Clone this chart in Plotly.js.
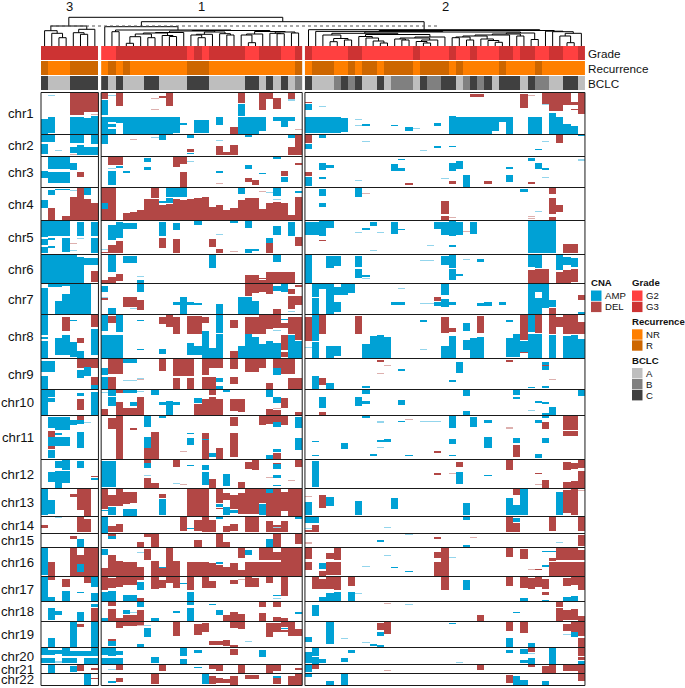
<!DOCTYPE html>
<html><head><meta charset="utf-8">
<script src="https://cdn.plot.ly/plotly-3.0.1.min.js"></script>
<style>html,body{margin:0;padding:0;background:#fff}</style></head>
<body><div id="g" style="width:685px;height:688px"></div>
<script>
// sample groups, in drawing order
const clusterNames = ["3","1","2"];
const clusterSizes = [8,28,39];
const chrNames = ["chr1","chr2","chr3","chr4","chr5","chr6","chr7","chr8","chr9","chr10","chr11","chr12","chr13","chr14","chr15","chr16","chr17","chr18","chr19","chr20","chr21","chr22"];
const chrBins = [41,21,30,32,33,28,30,43,30,25,43,28,27,16,13,28,24,19,25,16,8,11];

// sample annotations
const grade = ["33333333","22 3333333333 2 3 2 33333 22 333 22 3","3 22222 33 2222222 3 2222 3 22 3 222 33 2 33 22 33 22 3"];
const recurrence = ["R NNN RRRR","N R N R NNNNNNNN RRR NNNNNNNNNNNN R","N RRR NN R N RR N RRRR N RRRR N R NNNNN R NNNN R NNNNNN"];
const bclc = ["C AAA CCCC","C A C AAA CC AAAA CCC AAAAA CC A C A C A B","C AAA B C B C AA C A BBB A C BB CC A B C B C A CCC A C BB AA CC A"];

// CNA segments per chromosome and cluster: type sample(s):bins. A=AMP D=DEL, a/d=faint call
const chr1 = ["a1:2-3 D4-7:0-19 D4-5:19-22 d7:21-22 A0:26-41 A1:24-40 A4-5:24-41 A6:25-41 A7:23-41",
"D0:0-6 A0:7-22 A0:24-41 a1:2-3 A1:24-29 A1:31-34 A1:36-41 D2:0-13 A2:24-30 A3-9:24-41 A10:24-40 A11:30-32 A13-14:27-40 A16:24-32 d7:5-6 d7:16-17 D8:3-5 D9:0-13 D18:34-41 D19:0-10 A19:11-23 A19-21:24-41 A22:24-38 D22:0-17 D23:0-6 D24:5-16 A24:24-28 A25:24-34 A26:24-28 D26:0-6 a26:6-8 d27:36-37",
"D0:9-10 A0:11-17 a2:13-14 A0-4:24-40 A5:25-39 a7:26-27 a7:32-33 A8:31-33 A12:32-33 A14:34-38 a15:35-36 A18:30-33 A20:23-41 A21-25:24-41 A26:24-38 A27:24-29 A28:24-41 D23-24:1-4 D30:1-15 d31:2-3 A31-32:24-41 D33:0-11 a33:11-12 D34-35:0-18 D36-37:9-12 D36:0-12 D37:16-17 D38:0-21 A34:20-41 A35:24-41 A36:31-41 A37:33-41"];
const chr2 = ["A0-1:0-7 A0:9-19 a2:15-16 A4-5:0-8 A7:0-9 A4:12-18 A5:10-20 A6-7:12-20 d4:19-20",
"A0:0-9 d4:4-5 a7:2-3 A8:0-5 A12:0-3 D12:14-17 A12:18-19 a16:5-6 D16:11-20 D17:17-20 D18:10-20 A20:0-2 A26:0-3 D26:12-20 D27:0-20",
"D0:0-8 A0:9-14 A2:0-3 a8:6-7 a16:15-16 A18:11-13 A20:11-12 A32:14-15 a33:6-7 D35:0-8 A38:0-1"];
const chr3 = ["A1-3:0-12 A4:6-13 A0:14-21 A1-3:15-26 D5:15-20",
"D1:0-8 D2:0-8 A2:9-11 a1:11-12 A1:14-28 A3:14-16 A6:1-5 A6:10-13 D10:0-10 D11:0-7 D11:15-30 a12:4-5 A16:14-16 d16:26-27 A20:8-12 D20:21-25 D21:23-28 A22:16-17 D25:14-19 A25:20-25 A24:0-2 D27:6-8",
"D0:15-19 A0:20-29 A2:6-13 A3:8-11 A2:20-22 a7:23-24 A13:2-3 A12:7-14 A13:11-14 D14:26-28 a19:21-22 A20:6-14 A21:4-12 D20:24-27 A22:18-30 D25:24-27 A28:10-12 A28:18-25 A31:1-4 D31:25-27 A32:6-12 A33:11-13 a33:20-21 a38:2-4"];
const chr4 = ["A1:2-7 A2:1-2 A3:1-2 a4:2-3 D5:0-32 D4:9-32 A6:0-7 D6:11-32 D7:15-32 A0:12-20 D1:20-32 D3:28-32",
"D0-1:0-32 A0:15-21 D3:25-32 D4:24-32 D5:22-32 D6:11-32 D7:0-10 D7:11-32 A8:13-15 D8:17-32 A9:0-9 A9:10-15 D9:16-32 A10:0-9 D10:11-32 A11:0-9 D11:12-32 D12:11-32 D13:10-32 D14:9-32 D15:19-32 D16:17-32 D17:22-32 D18:20-32 A19:0-6 D19:12-32 D20-21:10-32 d22:3-4 D22:21-32 a23:4-5 D23:15-32 A24:0-8 a24:11-12 D24:14-32 D25:15-32 D26:27-32 A27:3-5 D27:9-32",
"A2:1-8 A2:15-19 A7:0-9 d8:5-6 D19:13-26 D19:28-32 d20:29-30 A30:1-4 d31:28-29 d31:30-31 a32:23-24 D34:0-6 D34:10-26 D35:17-24 D34:29-32"];
const chr5 = ["A0:0-16 A0:18-24 A0:26-32 A1-3:0-15 A3:17-31 A1:17-19 A1:25-27 A5:1-15 a5:17-18 d4:22-23 a4:29-30 A7:1-15 A7:17-32",
"a0:28-29 D0:31-32 A1:4-19 A2:1-17 D1:24-32 D2:20-32 A3-4:2-8 A8:1-15 D8:17-27 A10:2-9 D10:18-32 A13:0-4 a16:13-14 D15:18-26 D16:28-32 d18:30-31 A18:0-2 A20:0-7 A20:28-32 A21:28-30 A23:17-22 D23:22-32 A24:5-14 A26:1-15 D27:16-25",
"A0-1:1-14 A2:0-15 A3:0-7 D2:19-20 a7:11-12 A8:7-9 A9:1-5 a9:29-30 a10:11-12 A12:1-13 A13:8-9 a17:24-25 A18:1-8 A19:1-14 A20:0-15 A21:1-14 d22:10-11 A23:1-13 A20:24-26 A31-34:0-32 D36-37:23-32"];
const chr6 = ["A0-4:0-28 A5:2-28 A6-7:3-10 D7:16-27",
"A1:0-17 D0:25-28 D1:22-28 D2:19-26 A3-4:1-8 a5:21-22 A5:25-28 A15:0-13 A24:0-7 D20-21:20-28 D22:23-24 D22:25-28 D23-26:17-28",
"A0:0-28 A3:1-13 A4:1-11 A7:1-12 A7:14-23 A8:20-22 a8:23-24 a16-17:5-6 A19:1-10 A20:0-13 A20:14-25 A21:19-21 a22:4-5 A24:4-7 A31:0-12 D31:15-28 A32:0-13 D32-33:14-28 A35:0-15 A36:2-10 A37:3-12 D35:17-28 D36:15-28 D37:14-27"];
const chr7 = ["A0:4-30 A1:0-3 A2:0-3 A2:17-30 A3:0-2 A3:10-30 A4-6:0-30",
"A0:2-8 a0:13-14 D0:14-16 A1:24-30 A5:0-8 D3-4:13-23 D5:16-26 a4:24-25 A10:18-21 A11:13-30 A12:18-21 A13:19-21 A16:20-30 A19-20:13-30 A21:17-30 D20:0-12 D21:0-9 D22:0-8 D23:0-10 A24:2-7 A25:0-8 D26:5-10 D26:12-25 D27:1-3 D27:12-21 a26:27-28 D24:25-30",
"A1:0-13 A1:14-30 A2:0-5 A3:0-30 A4:3-11 A4:18-28 A5:0-11 A6:0-9 a13:4-5 A12-13:18-21 a16-17:19-20 D18:13-17 A18:18-22 A19:0-11 A19:15-23 A20:18-21 A24:19-22 A25:18-22 A27:18-21 A31:0-30 A32:0-8 A32:14-30 A33:0-24 A34:16-23 D34:24-30 D38:11-16 A38:28-30"];
const chr8 = ["A0:0-20 A0:22-24 A0:26-43 D3:2-16 A4:5-6 A3:20-40 A2:23-40 A4:27-42 A5:36-43 D5:23-28 D7:0-12 A7:14-40",
"A0:0-16 D1:1-8 A2:0-17 A0-2:20-43 A5:5-6 A5:34-35 D8:2-9 D9:0-12 D10:2-19 A8:34-39 D12-13:1-19 D14:2-8 A12:28-40 A13:31-40 A14:16-43 A15:33-43 A16:0-18 A16:19-43 D18:5-13 D18:36-43 A19:31-43 A20:19-43 A21:22-43 A22:29-43 A23:26-43 A24:28-43 D20-21:2-19 D22:0-19 D23:0-14 D24:0-13 a24:15-16 A25:4-5 D25:8-13 D25:20-35 D25:37-42 D26:2-19 A26:20-43 D27:2-25 A27:26-43",
"D0:2-26 A1:0-26 a0:32-33 A1:27-43 D2:0-19 A3:31-43 A4:31-41 D7:1-19 A8:29-43 A9:21-43 A10:20-43 A11:22-43 A16:5-7 a16:34-35 D19:2-18 D20:13-17 A19:31-43 A20:21-43 A22:8-16 A22:25-35 A23:23-43 A24:22-43 D24:1-18 A28:5-7 A28:23-42 A29:19-42 D30:0-25 A30:26-37 D30:37-38 A31:19-43 A31:0-17 D32:0-18 A32:19-43 A34:20-43 D34:0-19 D35:2-12 D36-37:0-19 D38:7-19 A36:21-43 A37:20-43 A38:24-43"];
const chr9 = ["A0-1:2-13 A0:17-30 D5:0-9 D6:0-8 D7:0-9 A5:11-19 A6:8-17 D7:18-26 A7:26-30",
"A0:9-16 A0:18-30 D1-2:0-15 D1:18-30 A3-4:0-4 a3:21-22 a4:21-22 d5:20-21 a5:19-20 D8:0-12 D10-12:0-17 D10:19-30 D12:19-30 D14:0-16 D15-16:0-9 D14-15:18-30 A16:19-23 A16:27-30 D18:0-10 D18:18-25 D20-21:0-13 D22:0-9 A24:9-16 D24:0-9 D25-26:0-15 D23:24-30 D26-27:19-30",
"D10:1-3 d11:6-7 d10:14-15 A13:10-12 A21:3-14 A20:21-23 D28:1-3 A33:3-11 D33:6-7 d34:20-21 A1:17-30 D2:19-26 A3:24-30 A8:27-29 A31:28-29 A33:27-29"];
const chr10 = ["A0:0-25 A1:0-7 A1:8-12 A5:3-6 D5:9-20 A7:2-25",
"D0:19-25 a0:2-3 A1:0-6 A1:7-16 D2:0-3 D2:12-25 A3-4:0-3 a5:1-2 D3-4:18-25 A4:12-16 D5:7-25 A7:0-5 A8:12-15 A9:11-25 A10:12-15 A13:8-13 D13:14-25 D14:9-25 D15:0-5 D15:7-25 D16:9-25 D18:9-21 D19:9-22 A17:0-2 A23:0-7 D23:19-25 A24:7-13 D25:8-18 d24:18-19 D24:20-25 D27:22-25",
"A8:0-4 A7:7-16 A8:11-14 A2:7-18 D2:22-25 A13:10-15 A22:0-6 A22:21-25 A29:0-5 A29:7-9 A32:11-13 A33:12-14 a31:20-21 A34:17-25 A33:23-25 A38:0-6"];
const chr11 = ["A1:1-12 A2-3:1-14 A4:4-9 A5:4-8 a6:6-7 D5:0-4 D1:15-33 A1:34-42 A2:17-19 A2-3:21-30 A1:21-30 A5:16-32",
"D1:2-13 D2:0-43 D4:12-14 A6:0-11 A6:21-32 D6:32-43 D7:16-43 A8:0-2 d11:35-36 A12:17-18 A12:22-29 D14:17-43 A14:23-24 A15:37-41 D16:32-43 D18:1-10 D18:17-41 D22:0-9 D23:0-8 D24:0-6 A24:6-11 D25:0-9 A27:1-12 A27:22-34 A23:39-43 A24:33-36 D24:37-43",
"A8:0-2 a10:5-7 A13:5-6 d14:3-4 a16-18:5-6 A20:0-12 A23:1-11 A25:4-7 d28:11-13 A32:4-7 D33:6-13 A33:0-2 D36-37:0-14 D36-37:15-20 A1:25-26 A5:27-33 A10:24-26 A11:23-26 a10:31-32 A25:21-32 A20:23-28 D18:35-37 A1:39-40 A9:38-40 A14:39-40 A20:39-40 A29:22-27 D29:29-41 A33:22-27 A32:38-42"];
const chr12 = ["A2:1-8 A3:0-10 A5:1-8 A1:12-22 A2:11-28 A3:11-23 D7:16-17 A7:18-20",
"A0-1:1-27 A6:3-8 D6:0-3 D6:18-28 a6:15-16 D7:23-28 D10:0-7 a10:23-24 d11:24-25 A12:5-6 A14:5-10 A14:12-25 D15:19-28 A17:14-26 D19:22-28 D20:2-9 D21:0-10 D24:3-4 A24:4-9 d23:17-18 A24:15-18 A24:25-26 d26:20-21 D27:0-7",
"A1:1-27 D18:13-15 d20:13-14 D21:2-7 A21:12-24 A25:15-16 D28:0-10 D32:13-14 d32:24-25 D33:20-28 D36:2-10 D37:3-9 D38:0-8 D36:22-28 D37:21-28 D38:11-28"];
const chr13 = ["A0:0-26 A1:11-25 D4:5-8 D5:0-21 D6:0-27",
"D0:0-20 D1:6-17 D2:0-17 D3:3-15 D4:3-14 A0:21-22 A1:18-26 A3-4:20-27 D8:5-9 A8:10-26 D12-14:0-27 D16:0-14 A16:15-18 D16:19-20 A17:18-26 D17:4-11 D18:6-20 A18:21-24 D19:4-25 D20-21:0-25 D22:0-14 A22:15-26 A23:0-4 D23:4-27 D24:0-27 D25:3-22 D26-27:0-27",
"d0:7-8 A0:13-26 D2:6-19 A3:8-17 A7:12-26 A12:9-20 A22:14-26 A28:9-26 A29:16-26 D29:0-6 A30:0-26 A35:3-26 D36:1-24 D37:0-26 d38:1-2"];
const chr14 = ["a2:0-1 D0:8-11 D5:0-15 D6:2-15",
"A0:0-16 D1:9-15 D2:7-15 D11:0-14 A12:11-12 D13:3-14 D14:0-15 D15:3-15 A16:0-2 D17:9-15 D18:7-14 D20-21:0-15 D23:4-15 D25:4-15 D24:8-15 a24:10-11 A27:0-2",
"A0-1:0-6 D1:8-15 D0:13-15 a0:11-12 a11:10-11 A22:0-3 D28:0-15 A29:1-5 D29:6-15 D34:0-14 D38:0-14"];
const chr15 = ["D4:2-5 A5:5-13",
"D1:0-2 A1:2-5 D6:0-3 D7:0-13 D5:8-13 D13:6-13 D16:0-13 D17:8-13 A23:5-13 D24:0-13 D27:0-10",
"d0:8-10 a14:0-1 A10:6-8 D18:3-5 d23:3-4 A22:11-13 a35:8-9 D38:1-12"];
const chr16 = ["A0:0-27 D1:14-28 D4:0-28 D5:7-28 A5:16-24 D6-7:0-28",
"A0:1-7 D0:20-28 D1:7-28 D2:13-28 D3-4:14-28 D5:19-28 a5:4-5 D6:1-12 D7:13-28 D8:20-28 A8:19-20 D9:0-28 D10:13-28 D12-14:14-28 D15:15-28 A16:14-16 D16:17-28 D17:19-28 D18:15-28 D19:0-10 D19:22-28 D20-24:14-28 A20:2-7 D22-23:0-12 D24:4-12 D25-27:0-28",
"D0:0-11 D0:14-22 A2:15-21 D2:23-28 D3:5-11 D3:14-27 D4:0-12 D4:14-27 a8:18-19 a11:7-8 A12:19-20 A14:23-24 D18:4-10 D18:14-28 D19:0-28 a20:9-10 D28:0-9 D30:1-11 A33:3-4 A34:3-4 A33:17-19 d31:21-22 D32:21-22 D34:10-13 D34:14-28 D35-37:0-12 D38:2-12 D35-38:14-28"];
const chr17 = ["A0:0-24 A1:20-24 D1:0-3 D3:2-10 A3:14-24 A5:15-16 D6:0-6 A7:0-10 A7:16-24",
"D0:0-13 D1:1-11 D2:0-10 D3-4:0-8 D5:0-3 A5:5-13 A0:15-24 A1:14-24 A3-4:18-24 D5:21-24 D7:0-12 D8:3-11 D9:0-6 D10:0-11 A11:6-7 D12:0-13 A12:15-24 D14:0-11 D15:4-11 D18:3-7 d19:2-3 D20:0-10 D21:1-10 D23:0-6 D25:0-19 A24:18-19 a24:21-22",
"D1:0-12 D2:2-12 D3:0-12 D4:0-13 A2:20-24 A3:16-24 A4:15-24 D6:0-9 A6:15-24 a7:16-17 D19:0-13 A22:3-13 D28:0-9 D30:0-11 A30:21-24 D31:1-12 D32:0-10 D33:2-12 D33:15-18 A33:23-24 D36:1-9 D37:0-8 D38:0-13 A36:20-24 A37:19-24"];
const chr18 = ["A1:6-18 A2:9-13 A5:10-19 A7:2-5 D7:6-19",
"D1:0-4 D1:7-19 A0:16-19 D2:16-19 A3:8-12 a4:10-11 D3-4:13-19 D5:8-19 A5:0-5 A7:16-19 A10:9-11 A12:6-19 A12:0-3 A15:2-3 A16:8-13 D17:13-19 D18:10-19 D19:12-19 D22:0-5 D22:11-19 D24:0-5 D24:15-19 D25:16-19 A27:10-12",
"A1:3-14 d11:1-2 a14:2-3 D24:13-19 A29:10-11 D35:0-5 D35:6-19 D36:8-18 D37:7-18 D38:14-19"];
const chr19 = ["A1:16-25 A4:0-25 D5:2-5 A7:0-25",
"D2:0-6 D3-4:0-4 D5:0-3 d5:3-4 a6:3-4 A6:6-15 D1:17-19 A1:19-24 D10:0-14 D13:2-13 D14:1-10 A5:22-25 D15:19-23 D16:19-23 D17:18-24 D18:23-25 D18:0-6 D19:0-7 a20:19-20 D23:1-15 D24:1-10 D25:0-5 A25:6-7 D25:8-10 D26:0-14 D27:7-14",
"A0:15-20 A3:0-22 a5:16-17 a8:20-21 A9:22-24 A10:23-25 D10:1-8 D11:0-12 A10:10-14 A20:1-2 D28:0-9 A28:16-25 D30:0-11 A31:21-25 D36:2-9 D37:0-10 D38:0-14 A37:10-15 a36:12-13 D38:16-25"];
const chr20 = ["A0:0-7 A1:2-7 A2:2-6 A3:0-8 A4-6:3-8 A7:0-8 A0-1:10-15 a2:13-15 A3-4:10-15 A6-7:10-16",
"A0:0-7 A1:0-8 A2:3-7 A0-2:10-16 A7:9-15 A11:0-8 A11:11-16 A13:2-5 D18:1-7 A22:2-9",
"A1:0-8 A0:4-15 A1:9-16 A2:11-15 A6:2-5 A5:10-14 a21:14-15 A28:2-5 A30:1-6 A30:12-15 A31:10-16 D31:0-4 a31:5-6 A34:0-16 D38:0-8 D38:9-12 A38:13-16"];
const chr21 = ["A1:0-8 A4:1-7 D5:0-6 D7:3-5",
"D2:0-5 a1:4-5 D8:0-6 A13:2-3 D15:0-4 D16:0-6 D19:0-8 D23:0-8 D24:0-6 D27:3-5",
"A0:0-7 D1:0-4 d11:5-6 D24:0-5 D33:1-8 D34:0-8 D36-37:0-6 D38:0-8 D31:0-2"];
const chr22 = ["A6:0-11 D7:4-5",
"A1:7-9 D2:4-8 D7:0-10 A14:0-10 D15:2-10 D16:4-9 D17:5-9 D18:2-11 D20-21:1-5 A24:2-4 D24:4-10 D26:2-11 D27:0-11",
"A0:0-3 A3:7-11 A5:0-11 D28:1-9 A29:2-11 A30:6-11 A33:7-11 D38:0-7"];
const chrSegments = [chr1,chr2,chr3,chr4,chr5,chr6,chr7,chr8,chr9,chr10,chr11,chr12,chr13,chr14,chr15,chr16,chr17,chr18,chr19,chr20,chr21,chr22];

// clustering, hclust style: negative = sample (1-based), positive = earlier merge (1-based), then height,
// and optionally the position of the node along the samples
const mergeC3 = [[-3,-4,8.3],[-2,1,12.7],[-1,2,15.3],[-6,-7,11.7],[-5,4,13.3],[-8,5,16.7],[3,6,20]];
const mergeC1 = [[-2,-3,14.3],[-4,-5,2.7],[2,-6,9.3],[-7,-8,8.3],[3,4,12],[-10,-11,9.5],[-9,6,10.5],[5,7,13],[8,-12,13.5],[-14,-15,8.3],[-13,10,11],[11,-16,11.7],[-18,-19,11],[-17,13,12.3],[12,14,14],[9,15,15],[-21,-22,3.3],[-20,17,11],[18,-23,12],[-25,-26,12.3],[-24,20,12.7],[-27,-28,13],[21,22,14],[19,23,14.5],[16,24,15.5],[1,25,16,10.7],[-1,26,19.3]];
const mergeC2 = [[-4,-5,4.3],[-6,-7,6],[1,2,7.5],[-3,3,11],[-11,-12,3],[-10,5,5],[-9,6,8],[-8,7,9.5],[-14,-15,6],[-13,9,7],[-17,-18,3],[-16,11,4.5],[-19,12,6],[10,13,8],[14,-20,9],[8,15,11.5],[4,16,12.7],[-21,-22,8.3],[-23,-24,6],[18,19,9],[-27,-28,3.7],[-26,21,5.5],[-25,22,7],[20,23,10],[24,-29,11],[-30,-31,10],[25,26,12],[-32,-33,6.5],[27,28,13],[17,29,14],[-2,30,14.6],[-37,-38,3.3],[-36,32,10],[33,-39,12.7],[-35,34,14.3],[-34,35,14.8],[31,36,15.5,32.7],[-1,37,16.3]];
const topHeights = [24.3,28.7];
const cutHeight = 20;

// colours
const cnaColors = {D:"#B24745",d:"#DDB0AE",blank:"#FFFFFF",a:"#93D5EC",A:"#00A1D5"};
const gradeColors = {"2":"#FF4040","3":"#CD3333"};
const recColors = {N:"#FF7F00",R:"#CD6600"};
const bclcColors = {A:"#BEBEBE",B:"#808080",C:"#404040"};

// page geometry: the axes span the whole page, one y unit is one page pixel
const W=685,H=688,L=41,U=7.18,GAP=0.38,Y0=93,LEAF=46;
const X=px=>(px-L)/U;
const starts=[0,clusterSizes[0]+GAP,clusterSizes[0]+clusterSizes[1]+2*GAP];
const totalRows=chrBins.reduce((s,n)=>s+n+1,0);
const code={D:-2,d:-1,a:1,A:2};
const tops=[];{let t=Y0;chrBins.forEach(n=>{tops.push(t);t+=n+1;});}

const traces=[];
clusterSizes.forEach((n,p)=>{
  const z=Array.from({length:totalRows},()=>new Array(n).fill(0));
  chrSegments.forEach((seg,c)=>{
    seg[p].trim().split(/\s+/).forEach(s=>{
      const m=s.match(/^([ADad])(\d+)(?:-(\d+))?:(\d+)-(\d+)$/);
      if(!m)return;
      const c0=+m[2],c1=m[3]===undefined?c0:+m[3];
      for(let b=+m[4];b<+m[5]&&b<chrBins[c];b++)
        for(let k=c0;k<=c1&&k<n;k++) z[tops[c]-Y0+b][k]=code[m[1]];
    });
  });
  traces.push({type:"heatmap",z,x0:starts[p]+0.5,dx:1,y0:Y0+0.5,dy:1,zmin:-2,zmax:2,showscale:false,hoverinfo:"skip",
    colorscale:[[0,cnaColors.D],[.125,cnaColors.D],[.125,cnaColors.d],[.375,cnaColors.d],[.375,cnaColors.blank],[.625,cnaColors.blank],[.625,cnaColors.a],[.875,cnaColors.a],[.875,cnaColors.A],[1,cnaColors.A]]});
});

// annotation strips
const strips=[[grade,gradeColors,46,60],[recurrence,recColors,61,75],[bclc,bclcColors,76,90]];
strips.forEach(([vals,cols,y0,y1])=>{
  const keys=Object.keys(cols);
  vals.forEach((v,p)=>{
    const row=v.replace(/\s/g,"").split("").map(c=>keys.indexOf(c));
    traces.push({type:"heatmap",z:[row],x0:starts[p]+0.5,dx:1,y:[y0,y1],zmin:0,zmax:keys.length-1,showscale:false,hoverinfo:"skip",
      colorscale:keys.length===2?[[0,cols[keys[0]]],[.5,cols[keys[0]]],[.5,cols[keys[1]]],[1,cols[keys[1]]]]
      :[[0,cols.A],[.333,cols.A],[.333,cols.B],[.667,cols.B],[.667,cols.C],[1,cols.C]]});
  });
});

// dendrograms
const dx=[],dy=[];
function link(x1,h1,x2,h2,h){dx.push(x1,x1,x2,x2,null);dy.push(LEAF-h1,LEAF-h,LEAF-h,LEAF-h2,null);}
function tree(merge,start){
  const nodes=[];
  const get=i=>i<0?{x:start-i-0.5,h:0}:nodes[i-1];
  merge.forEach(([a,b,h,pos])=>{const A=get(a),B=get(b);link(A.x,A.h,B.x,B.h,h);nodes.push({x:pos===undefined?(A.x+B.x)/2:start+pos,h});});
  return nodes[nodes.length-1];
}
const r3=tree(mergeC3,starts[0]),r1=tree(mergeC1,starts[1]),r2=tree(mergeC2,starts[2]);
link(r1.x,r1.h,r2.x,r2.h,topHeights[0]);
link(r3.x,r3.h,(r1.x+r2.x)/2,topHeights[0],topHeights[1]);
traces.push({type:"scatter",mode:"lines",x:dx,y:dy,line:{color:"#000",width:1},hoverinfo:"skip",connectgaps:false});
traces.push({type:"scatter",mode:"lines",x:[X(50),X(437)],y:[LEAF-cutHeight,LEAF-cutHeight],line:{color:"#555",width:1,dash:"dot"},hoverinfo:"skip"});

// slice outlines
const shapes=[];
clusterSizes.forEach((n,p)=>{chrBins.forEach((b,c)=>{
  shapes.push({type:"rect",xref:"x",yref:"y",x0:starts[p],x1:starts[p]+n,y0:tops[c]-0.5,y1:tops[c]+b+0.5,line:{color:"#1a1a1a",width:1},fillcolor:"rgba(0,0,0,0)"});
});});

const FONT="Liberation Sans, Arial, sans-serif";
const ann=[];
function text(t,px,y,size,anchor,bold){ann.push({text:bold?"<b>"+t+"</b>":t,x:X(px),y,xref:"x",yref:"y",showarrow:false,borderpad:0,borderwidth:0,xanchor:anchor||"left",yanchor:"middle",font:{family:FONT,size,color:"#111"}});}
chrNames.forEach((n,c)=>text(n,34,tops[c]+chrBins[c]/2,13.2,"right"));
const titleX=[69.3,201.7,445];
clusterNames.forEach((n,i)=>text(n,titleX[i],6,13,"center"));
text("Grade",588,53.5,11.7);text("Recurrence",588,68.5,11.7);text("BCLC",588,83,11.7);

function legend(title,px,ty,items,cols,ys){
  text(title,px,ty,9.6,"left",true);
  items.forEach((it,i)=>{
    shapes.push({type:"rect",xref:"x",yref:"y",x0:X(px),x1:X(px+10.5),y0:ys[i],y1:ys[i]+10.4,line:{width:0},fillcolor:cols[i]});
    text(it,px+13.6,ys[i]+5.2,9.6);
  });
}
legend("CNA",591,282.7,["AMP","DEL"],[cnaColors.A,cnaColors.D],[290.5,301.7]);
legend("Grade",632,282.7,["G2","G3"],[gradeColors["2"],gradeColors["3"]],[290.5,301.7]);
legend("Recurrence",632,321.3,["NR","R"],[recColors.N,recColors.R],[329.3,340.3]);
legend("BCLC",632,360,["A","B","C"],[bclcColors.A,bclcColors.B,bclcColors.C],[368,379,390]);

Plotly.newPlot("g",traces,{
  width:W,height:H,autosize:false,margin:{l:0,r:0,t:0,b:0},paper_bgcolor:"#fff",plot_bgcolor:"#fff",showlegend:false,
  xaxis:{range:[X(0),X(W)],visible:false,fixedrange:true},
  yaxis:{range:[H,0],visible:false,fixedrange:true},
  shapes,annotations:ann
},{displayModeBar:false,staticPlot:true});
</script></body></html>
